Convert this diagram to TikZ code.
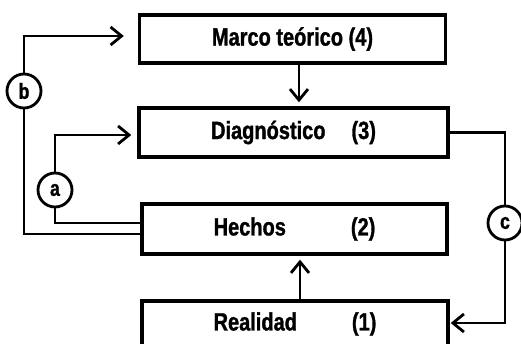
\documentclass[tikz,border=0pt]{standalone}
\usepackage{fontspec}
\setmainfont[FakeStretch=0.8,FakeBold=1.2]{Liberation Sans}
\usetikzlibrary{arrows.meta}

\begin{document}
\begin{tikzpicture}[x=1pt,y=-1pt,
    caja/.style={draw,line width=3.4pt,minimum width=306pt,minimum height=48pt,inner sep=0pt,font=\bfseries\fontsize{25}{30}\selectfont},
    letra/.style={draw,circle,fill=white,line width=2.8pt,minimum size=34pt,inner sep=0pt,font=\bfseries\fontsize{22}{26}\selectfont},
    linea/.style={line width=2.8pt},
    flecha/.style={line width=2.8pt,-{Straight Barb[length=11pt,width=18pt]}}]
                        \useasboundingbox (0,0) rectangle (521,344);
                        \clip (0,0) rectangle (521,344);
                        % cajas
                        \node[caja] (marco) at (292.5,39) {Marco teórico (4)};
                        \node[caja,minimum width=309pt,minimum height=49pt] (diag) at (293.5,132.5) {Diagnóstico\hspace{26pt}(3)};
                        \node[caja,minimum width=305pt,minimum height=50pt] (hechos) at (294.5,229) {Hechos\hspace{65pt}(2)};
                        \node[caja,minimum height=46pt] (realidad) at (295,324) {Realidad\hspace{55pt}(1)};
                        % circulos
                        \node[letra] (b) at (24,91) {b};
                        \node[letra] (a) at (55,190) {a};
                        \node[letra] (c) at (505,223) {c};
                        % flechas
                        \draw[flecha,shorten >=4pt] ([xshift=6.5pt]marco.south) -- ([xshift=5.5pt]diag.north);
                        \draw[flecha,shorten >=4pt] ([xshift=5pt]realidad.north) -- ([xshift=5.5pt]hechos.south);
                        \draw[linea] ([yshift=-5pt]hechos.west) -| (b);
                        \draw[flecha,shorten >=14pt] (b) |- ([yshift=3pt]marco.west);
                        \draw[linea] ([yshift=6pt]hechos.west) -| (a);
                        \draw[flecha,shorten >=6pt] (a) |- ([yshift=-2.5pt]diag.west);
                        \draw[linea] (diag.east) -| (c);
                        \draw[flecha,shorten >=1pt] (c) |- ([yshift=1pt]realidad.east);
                    \end{tikzpicture}
\end{document}
